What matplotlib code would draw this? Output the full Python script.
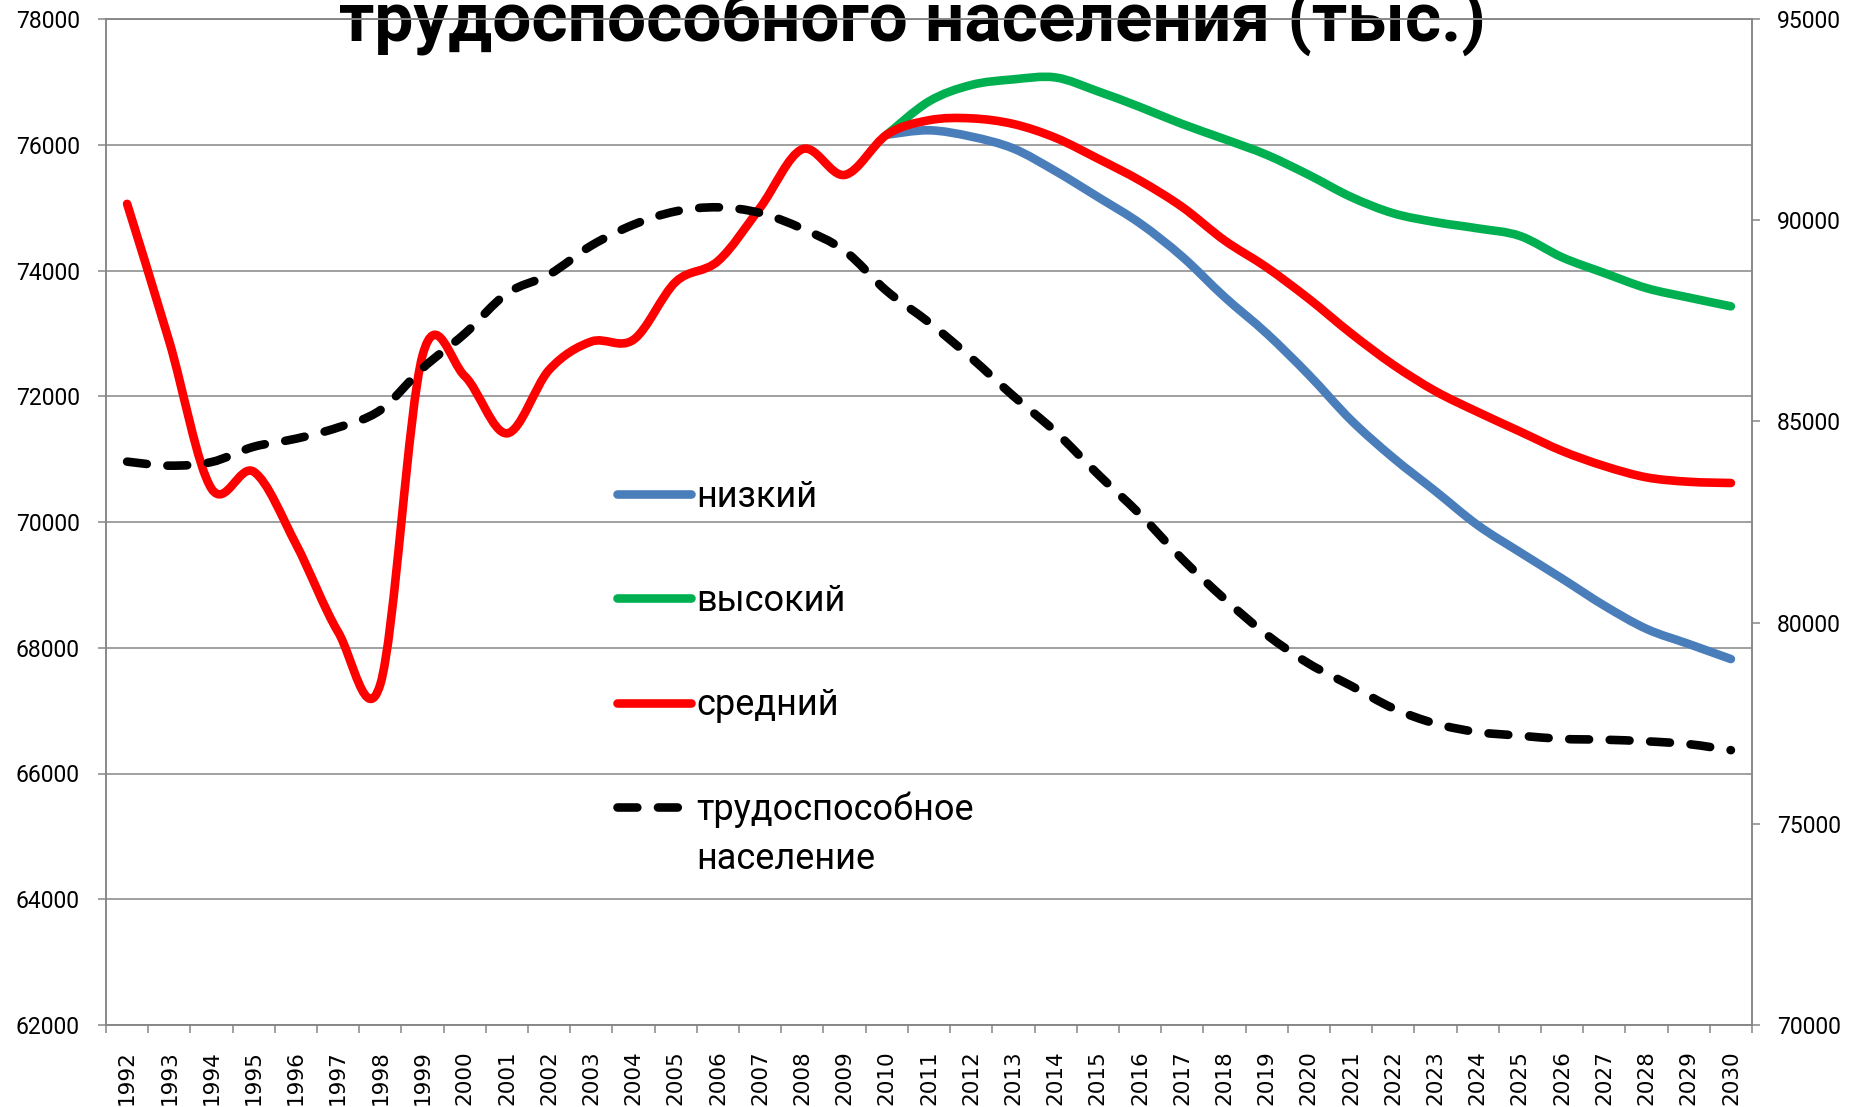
import numpy as np
import matplotlib
matplotlib.use('Agg')
import matplotlib.pyplot as plt
from matplotlib.path import Path
from matplotlib.patches import PathPatch
from matplotlib.lines import Line2D
from matplotlib.legend_handler import HandlerLine2D

plt.rcParams['font.family'] = ['Roboto', 'DejaVu Sans']

# Годы (категории оси X)
years = list(range(1992, 2031))
year_labels = [str(y) for y in years]

# Средний вариант (левая ось), 1992-2030
medium = [75060, 72870, 70530, 70800, 69650, 68250, 67420, 72650, 72320, 71410,
          72420, 72870, 72900, 73820, 74150, 75000, 75930, 75520, 76160, 76390,
          76420, 76330, 76110, 75780, 75430, 75010, 74480, 74050, 73550, 73000,
          72500, 72080, 71750, 71440, 71130, 70890, 70710, 70640, 70620]

# Высокий и низкий варианты (левая ось), 2010-2030
forecast_years = list(range(2010, 2031))
high = [76160, 76690, 76950, 77040, 77070, 76850, 76600, 76330, 76090, 75840,
        75520, 75170, 74910, 74770, 74670, 74550, 74210, 73960, 73720, 73570, 73430]
low = [76160, 76230, 76130, 75940, 75580, 75170, 74750, 74220, 73580, 73000,
       72340, 71620, 71020, 70490, 69950, 69520, 69100, 68670, 68300, 68060, 67820]

# Трудоспособное население (правая ось), 1992-2030
working_age = [84000, 83900, 83990, 84370, 84570, 84850, 85280, 86320, 87180, 88180,
               88650, 89370, 89890, 90220, 90320, 90180, 89790, 89240, 88240, 87460,
               86580, 85630, 84740, 83690, 82690, 81580, 80590, 79700, 78980, 78430,
               77870, 77490, 77280, 77190, 77110, 77090, 77050, 76980, 76830]

GRAY = '#868686'
LW = 6.2
DASH = (2.3, 2.4)


def smooth_path(xs, ys):
    # сглаженная линия из кривых Безье (как в Excel)
    x = np.asarray(xs, float)
    y = np.asarray(ys, float)
    n = len(x)
    verts = [(x[0], y[0])]
    codes = [Path.MOVETO]
    for i in range(n - 1):
        j0 = max(i - 1, 0)
        j3 = min(i + 2, n - 1)
        c1 = (x[i] + (x[i + 1] - x[j0]) / 6, y[i] + (y[i + 1] - y[j0]) / 6)
        c2 = (x[i + 1] - (x[j3] - x[i]) / 6, y[i + 1] - (y[j3] - y[i]) / 6)
        verts += [c1, c2, (x[i + 1], y[i + 1])]
        codes += [Path.CURVE4] * 3
    return Path(verts, codes)


class FirstLineHandler(HandlerLine2D):
    # значок легенды напротив первой строки подписи
    def create_artists(self, legend, orig_handle, xdescent, ydescent,
                       width, height, fontsize, trans):
        arts = super().create_artists(legend, orig_handle, xdescent, ydescent,
                                      width, height, fontsize, trans)
        for a in arts:
            a.set_ydata(np.asarray(a.get_ydata()) + 0.78 * fontsize)
        return arts


fig = plt.figure(figsize=(18.51, 11.07), dpi=100)
ax = fig.add_axes([106 / 1851, 1 - 1025 / 1107, 1646 / 1851, 1006 / 1107])
ax2 = ax.twinx()

x_all = np.arange(len(years))
x_fc = np.array([years.index(y) for y in forecast_years])

ax.add_patch(PathPatch(smooth_path(x_fc, low), fill=False, edgecolor='#4A7EBB',
                       lw=LW, capstyle='round', joinstyle='round', zorder=2))
ax.add_patch(PathPatch(smooth_path(x_fc, high), fill=False, edgecolor='#00B050',
                       lw=LW, capstyle='round', joinstyle='round', zorder=2))
ax.add_patch(PathPatch(smooth_path(x_all, medium), fill=False, edgecolor='#FF0000',
                       lw=LW, capstyle='round', joinstyle='round', zorder=3))
ax2.add_patch(PathPatch(smooth_path(x_all, working_age), fill=False, edgecolor='black',
                        lw=LW, linestyle=(0, DASH), capstyle='round', joinstyle='round'))

# Оси
ax.set_xlim(-0.5, len(years) - 0.5)
ax.set_ylim(62000, 78000)
ax.set_yticks(range(62000, 78001, 2000))
ax2.set_ylim(70000, 95000)
ax2.set_yticks(range(70000, 95001, 5000))

ax.set_xticks(x_all)
ax.set_xticklabels(year_labels, rotation=90, fontsize=15.5, family='DejaVu Sans')
ax.set_xticks(np.arange(-0.5, len(years)), minor=True)
ax.tick_params(axis='x', which='major', length=0, pad=18)
ax.tick_params(axis='x', which='minor', length=5.8, width=1.1, color=GRAY)
ax.tick_params(axis='y', length=5.8, width=1.1, color=GRAY, pad=13, labelsize=16.5)
ax2.tick_params(axis='y', length=5.8, width=1.1, color=GRAY, pad=12, labelsize=16.5)

ax.yaxis.grid(True, color=GRAY, linewidth=1.1)
for a in (ax, ax2):
    for s in a.spines.values():
        s.set_color(GRAY)
        s.set_linewidth(1.1)

# Заголовок (верхняя строка обрезана в оригинале)
ax.text(0.493, 0.963, 'трудоспособного населения (тыс.)', transform=fig.transFigure,
        ha='center', va='baseline', fontsize=50, fontweight='bold', zorder=0.5)

# Легенда
handles = [
    Line2D([], [], color='#4A7EBB', lw=LW, solid_capstyle='round'),
    Line2D([], [], color='#00B050', lw=LW, solid_capstyle='round'),
    Line2D([], [], color='#FF0000', lw=LW, solid_capstyle='round'),
    Line2D([], [], color='black', lw=LW, dashes=DASH, dash_capstyle='round'),
]
labels = ['низкий', 'высокий', 'средний', 'трудоспособное\nнаселение']
leg = ax2.legend(handles, labels, loc='upper left', bbox_to_anchor=(0.3105, 0.5430),
                 frameon=False, fontsize=26, borderpad=0, borderaxespad=0,
                 handlelength=2.05, handletextpad=0.15, labelspacing=1.89,
                 handler_map={handles[3]: FirstLineHandler()})
leg.texts[-1].set_linespacing(1.45)

fig.savefig('out.png', dpi=100)
